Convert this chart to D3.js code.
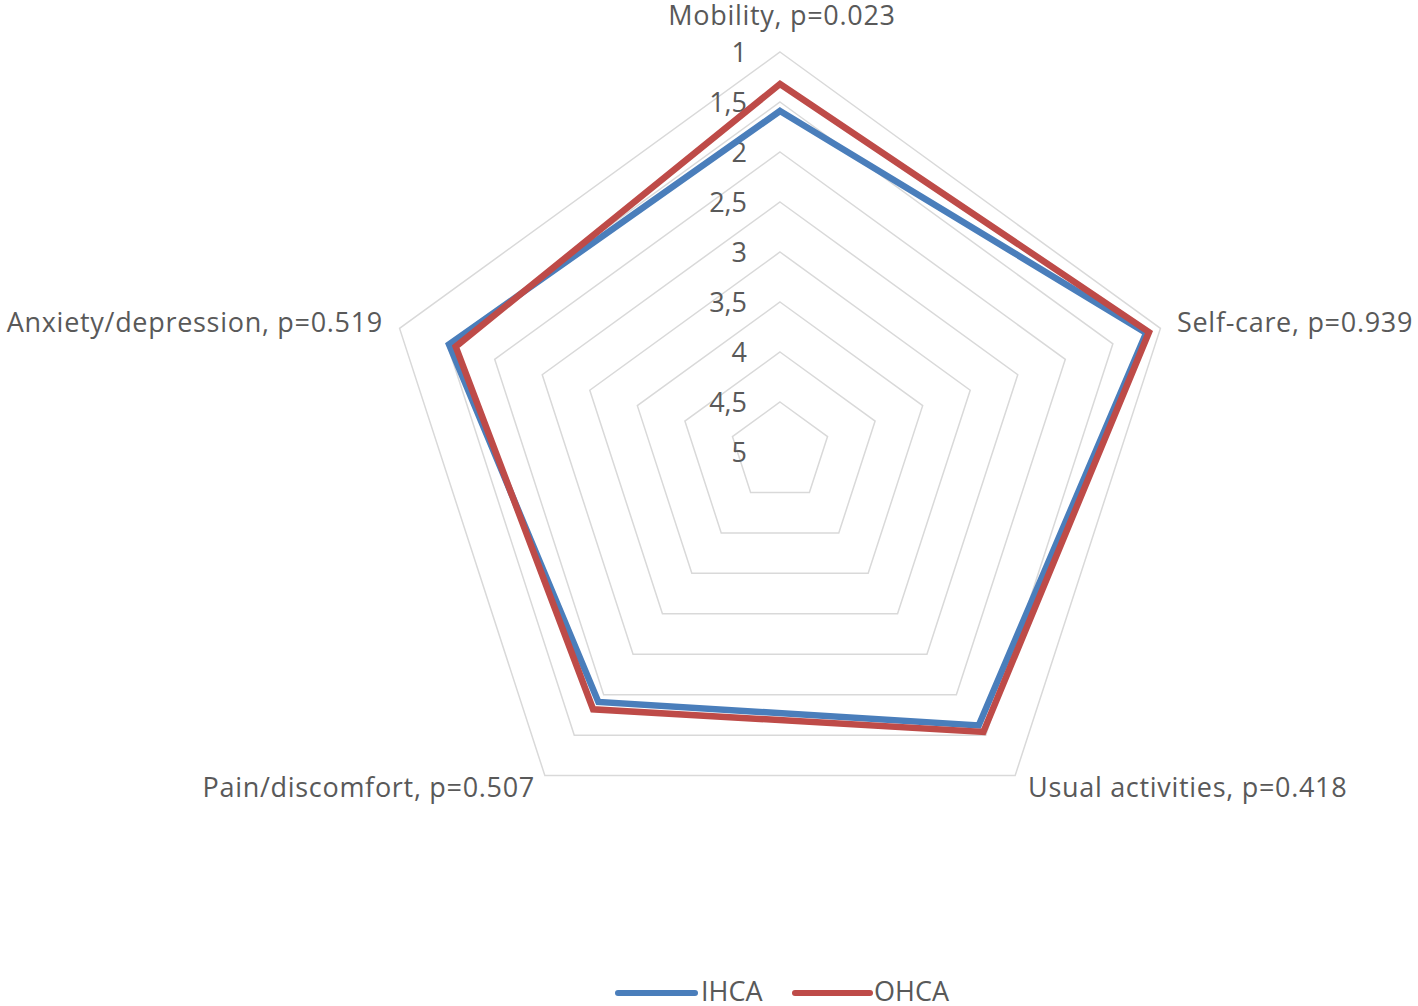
<!DOCTYPE html>
<html><head><meta charset="utf-8">
<script src="https://cdn.jsdelivr.net/npm/d3@7"></script>
<style>body{margin:0;background:#fff}svg{display:block}</style>
</head><body>
<svg id="chart" width="1418" height="1006"></svg>
<script>
const categories = ["Mobility, p=0.023","Self-care, p=0.939","Usual activities, p=0.418","Pain/discomfort, p=0.507","Anxiety/depression, p=0.519"];
const seriesNames = ["IHCA","OHCA"];
const ihca = [1.59, 1.15, 1.62, 1.91, 1.52];
const ohca = [1.32, 1.12, 1.54, 1.82, 1.59];
const tickValues = [1,1.5,2,2.5,3,3.5,4,4.5,5];
const tickLabels = ["1","1,5","2","2,5","3","3,5","4","4,5","5"];
const colors = ["#4A7EBB","#BE4B48"];

const svg = d3.select("#chart");
const cx = 780, cy = 452, R = 400;
const r = d3.scaleLinear().domain([5,1]).range([0,R]);
const ang = d3.scaleLinear().domain([0,categories.length]).range([0,2*Math.PI]);
const pt = (i,v)=>[cx + r(v)*Math.sin(ang(i)), cy - r(v)*Math.cos(ang(i))];
const font = "'Open Sans', sans-serif";
const textColor = "#595959";
const fs = 27, ls = 0.7;

// grid pentagons
const gridLevels = tickValues.filter(v=>v<5);
svg.append("g").selectAll("polygon").data(gridLevels).join("polygon")
  .attr("points", v=>categories.map((c,i)=>pt(i,v).join(",")).join(" "))
  .attr("fill","none").attr("stroke","#D9D9D9").attr("stroke-width",1.5);

// axis tick labels
svg.append("g").selectAll("text").data(tickValues).join("text")
  .attr("x", cx-33).attr("y", v=>cy - r(v) + 9.5)
  .attr("text-anchor","end").attr("font-family",font).attr("font-size",fs)
  .attr("fill",textColor).text((v,i)=>tickLabels[i]);

// series
const line = d3.line().curve(d3.curveLinearClosed);
[ihca, ohca].forEach((s,k)=>{
  svg.append("path").attr("d", line(s.map((v,i)=>pt(i,v))))
    .attr("fill","none").attr("stroke",colors[k]).attr("stroke-width",6.5)
    .attr("stroke-linejoin","miter");
});

// category labels
const labelPos = [
  {x:782, y:25, anchor:"middle"},
  {x:1177, y:332, anchor:"start"},
  {x:1028, y:797, anchor:"start"},
  {x:535, y:797, anchor:"end"},
  {x:383, y:332, anchor:"end"}
];
svg.append("g").selectAll("text").data(categories).join("text")
  .attr("x",(d,i)=>labelPos[i].x).attr("y",(d,i)=>labelPos[i].y)
  .attr("text-anchor",(d,i)=>labelPos[i].anchor)
  .attr("font-family",font).attr("font-size",fs).attr("letter-spacing",ls)
  .attr("fill",textColor).text(d=>d);

// legend
const leg = [{x1:618,x2:695,tx:701},{x1:795,x2:870,tx:874}];
seriesNames.forEach((n,k)=>{
  svg.append("line").attr("x1",leg[k].x1).attr("x2",leg[k].x2).attr("y1",993).attr("y2",993)
    .attr("stroke",colors[k]).attr("stroke-width",6).attr("stroke-linecap","round");
  svg.append("text").attr("x",leg[k].tx).attr("y",1001).attr("font-family",font)
    .attr("font-size",fs).attr("fill",textColor).text(n);
});
</script>
</body></html>
